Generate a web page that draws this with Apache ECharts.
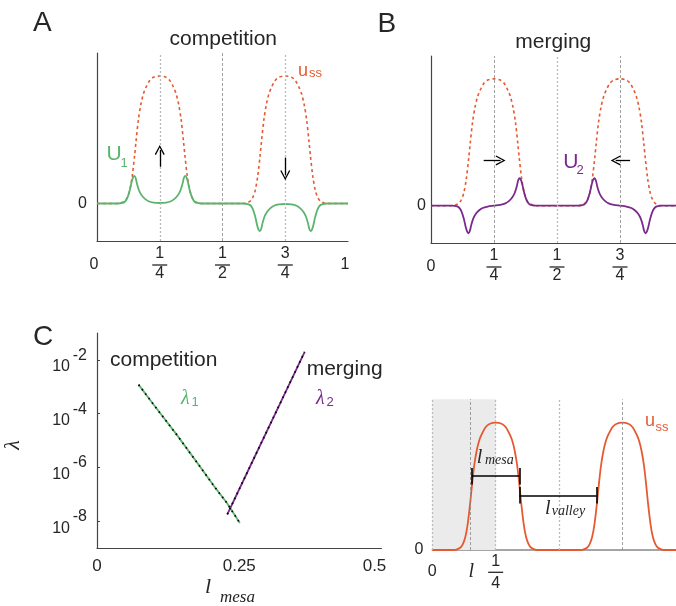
<!DOCTYPE html>
<html lang="en">
<head>
  <meta charset="UTF-8">
  <title>mesa competition / merging</title>
  <style>
    html, body { margin: 0; padding: 0; background: #fff; }
    #main { width: 676px; height: 606px; }
  </style>
</head>
<body>
  <div id="main"></div>
  <script src="https://cdn.jsdelivr.net/npm/echarts@6.0.0/dist/echarts.min.js"></script>
  <script>
    // steady state u_ss, two mesas centred on 1/4 and 3/4 (panels A, B, D)
    const ussX = [0, 0.085, 0.095, 0.11, 0.12, 0.13, 0.14, 0.15, 0.155, 0.165, 0.175, 0.185, 0.195, 0.21, 0.225, 0.25,
      0.275, 0.29, 0.305, 0.315, 0.325, 0.335, 0.345, 0.35, 0.36, 0.37, 0.38, 0.39, 0.405, 0.415,
      0.585, 0.595, 0.61, 0.62, 0.63, 0.64, 0.65, 0.655, 0.665, 0.675, 0.685, 0.695, 0.71, 0.725, 0.75,
      0.775, 0.79, 0.805, 0.815, 0.825, 0.835, 0.845, 0.85, 0.86, 0.87, 0.88, 0.89, 0.905, 0.915, 1]
    const ussY = [0, 0, 0.003, 0.018, 0.045, 0.1, 0.21, 0.38, 0.48, 0.66, 0.78, 0.86, 0.91, 0.965, 0.99, 1,
      0.99, 0.965, 0.91, 0.86, 0.78, 0.66, 0.48, 0.38, 0.21, 0.1, 0.045, 0.018, 0.003, 0,
      0, 0.003, 0.018, 0.045, 0.1, 0.21, 0.38, 0.48, 0.66, 0.78, 0.86, 0.91, 0.965, 0.99, 1,
      0.99, 0.965, 0.91, 0.86, 0.78, 0.66, 0.48, 0.38, 0.21, 0.1, 0.045, 0.018, 0.003, 0, 0]

    // eigenmodes U1 (competition) and U2 (merging)
    const uX = [0, 0.085, 0.1, 0.11, 0.12, 0.13, 0.138, 0.144, 0.149, 0.154, 0.16, 0.168, 0.178, 0.19, 0.205, 0.225, 0.25,
      0.275, 0.295, 0.31, 0.322, 0.332, 0.34, 0.346, 0.351, 0.356, 0.362, 0.37, 0.38, 0.39, 0.4, 0.415,
      0.585, 0.6, 0.61, 0.62, 0.63, 0.638, 0.644, 0.649, 0.654, 0.66, 0.668, 0.678, 0.69, 0.705, 0.725, 0.75,
      0.775, 0.795, 0.81, 0.822, 0.832, 0.84, 0.846, 0.851, 0.856, 0.862, 0.87, 0.88, 0.89, 0.9, 0.915, 1]
    const u1Y = [0, 0, 0.004, 0.012, 0.04, 0.1, 0.17, 0.207, 0.217, 0.2, 0.15, 0.1, 0.064, 0.038, 0.018, 0.007, 0.004,
      0.007, 0.018, 0.038, 0.064, 0.1, 0.15, 0.2, 0.217, 0.207, 0.17, 0.1, 0.04, 0.012, 0.004, 0,
      0, -0.004, -0.012, -0.04, -0.1, -0.17, -0.207, -0.217, -0.2, -0.15, -0.1, -0.064, -0.038, -0.018, -0.007, -0.004,
      -0.007, -0.018, -0.038, -0.064, -0.1, -0.15, -0.2, -0.217, -0.207, -0.17, -0.1, -0.04, -0.012, -0.004, 0, 0]
    const u2Y = [0, 0, -0.004, -0.012, -0.04, -0.1, -0.17, -0.207, -0.217, -0.2, -0.15, -0.1, -0.064, -0.038, -0.018, -0.007, 0,
      0.007, 0.018, 0.038, 0.064, 0.1, 0.15, 0.2, 0.217, 0.207, 0.17, 0.1, 0.04, 0.012, 0.004, 0,
      0, 0.004, 0.012, 0.04, 0.1, 0.17, 0.207, 0.217, 0.2, 0.15, 0.1, 0.064, 0.038, 0.018, 0.007, 0,
      -0.007, -0.018, -0.038, -0.064, -0.1, -0.15, -0.2, -0.217, -0.207, -0.17, -0.1, -0.04, -0.012, -0.004, 0, 0]

    // eigenvalues against mesa width (panel C)
    const lam1X = [0.073, 0.1, 0.141, 0.175, 0.205, 0.229, 0.251]
    const lam1Y = [1.2e-3, 2.1e-4, 1.55e-5, 1.6e-6, 2.1e-7, 4.5e-8, 8.5e-9]
    const lam2X = [0.229, 0.27, 0.32, 0.365]
    const lam2Y = [1.8e-8, 1.2e-6, 2.0e-4, 2.0e-2]

    // ticks
    const fracTicks = [0, 0.25, 0.5, 0.75, 1]
    const fracText = ['0', '1/4', '1/2', '3/4', '1']
    const lamTicks = [-8, -6, -4, -2]
    const mesaTicks = [0, 0.25, 0.5]
    const lValue = 0.154
    // widths marked in panel D: [from, to, height]
    const mesaBar = [0.155, 0.343, 0.58]
    const valleyBar = [0.343, 0.648, 0.43]

    const ORANGE = '#e65a32'
    const GREEN = '#5ab46e'
    const PURPLE = '#7a2a8c'
    const INK = '#262626'
    const SANS = '"Liberation Sans", Arial, sans-serif'
    const SERIF = '"Liberation Serif", "DejaVu Serif", serif'
    const ARROW = 'path://M5,0 L10,9 L8.8,9.6 L5,2.4 L1.2,9.6 L0,9 Z'

    const pairs = (xs, ys) => xs.map((x, i) => [x, ys[i]])

    const fracRich = {
      n: { fontSize: 16, lineHeight: 20, color: INK, fontFamily: SANS },
      bar: { width: 15, height: 1.3, lineHeight: 2, backgroundColor: INK },
      d: { fontSize: 16, lineHeight: 16, color: INK, fontFamily: SANS },
      c: { fontSize: 16, lineHeight: 42, color: INK, fontFamily: SANS },
      cs: { fontSize: 16, lineHeight: 42, color: INK, fontFamily: SANS, padding: [0, 6, 0, 0] },
      it: { fontSize: 20, lineHeight: 40, color: INK, fontFamily: SERIF, fontStyle: 'italic' }
    }
    function fracFormatter(v, shifted) {
      if (Math.abs(v - lValue) < 1e-9) return '{it|l}'
      const i = fracTicks.findIndex(t => Math.abs(t - v) < 1e-9)
      const s = i < 0 ? String(v) : fracText[i]
      if (s.indexOf('/') < 0) return (shifted ? '{cs|' : '{c|') + s + '}'
      const p = s.split('/')
      return '{n|' + p[0] + '}\n{bar| }\n{d|' + p[1] + '}'
    }

    const axisLine = { show: true, onZero: false, lineStyle: { color: '#444', width: 1.2 } }
    const zeroLabel = { customValues: [0], fontSize: 16, color: INK, fontFamily: SANS }

    function vline(x, light) {
      return {
        xAxis: x,
        lineStyle: light
          ? { color: '#bbb', type: [2, 2], width: 1.3 }
          : { color: '#888', type: [3, 2], width: 0.8 }
      }
    }
    function arrow(from, to) {
      return [{ coord: from }, { coord: to }]
    }
    const arrowMark = (data) => ({
      silent: true, symbol: ['none', ARROW], symbolSize: 10,
      label: { show: false }, lineStyle: { color: '#000', width: 1.3, type: 'solid' },
      data: data
    })
    function bar(b) {
      return [
        [{ coord: [b[0], b[2]] }, { coord: [b[1], b[2]] }],
        [{ coord: [b[0], b[2] - 0.065] }, { coord: [b[0], b[2] + 0.065] }],
        [{ coord: [b[1], b[2] - 0.065] }, { coord: [b[1], b[2] + 0.065] }]
      ]
    }

    function txt(x, y, text, font, fill, align, extra) {
      return Object.assign({
        type: 'text', x: x, y: y, z: 100, silent: true,
        style: { text: text, font: font, fill: fill || INK, align: align || 'left', verticalAlign: 'middle',
          textAlign: align || 'left', textVerticalAlign: 'middle' }
      }, extra || {})
    }

    var myChart = echarts.init(document.getElementById('main'), null, { renderer: 'canvas' })

    var option = {
      animation: false,
      backgroundColor: '#fff',
      grid: [
        { left: 97, top: 53, width: 251, height: 188, outerBoundsMode: 'none' },
        { left: 431, top: 56, width: 252, height: 187, outerBoundsMode: 'none' },
        { left: 97, top: 333, width: 284.5, height: 215, outerBoundsMode: 'none' },
        { left: 432.3, top: 399.3, width: 253.6, height: 150.7, outerBoundsMode: 'none' }
      ],
      xAxis: [
        {
          gridIndex: 0, type: 'value', min: 0, max: 1, axisLine: axisLine, splitLine: { show: false },
          axisTick: { show: false },
          axisLabel: { customValues: fracTicks, formatter: v => fracFormatter(v, true), rich: fracRich, margin: 3 }
        },
        {
          gridIndex: 1, type: 'value', min: 0, max: 1, axisLine: axisLine, splitLine: { show: false },
          axisTick: { show: false },
          axisLabel: { customValues: fracTicks.slice(0, 4), formatter: v => fracFormatter(v, false), rich: fracRich, margin: 3 }
        },
        {
          gridIndex: 2, type: 'value', min: 0, max: 0.5, axisLine: axisLine, splitLine: { show: false },
          axisTick: { show: false },
          axisLabel: { customValues: mesaTicks, margin: 10, fontSize: 17, color: INK, fontFamily: SANS,
            formatter: v => (v === 0.5 ? '{r|' + v + '}' : String(v)),
            rich: { r: { fontSize: 17, color: INK, fontFamily: SANS, padding: [0, 14, 0, 0] } } }
        },
        {
          gridIndex: 3, type: 'value', min: 0, max: 1, splitLine: { show: false },
          axisLine: { show: true, onZero: false, lineStyle: { color: '#888', width: 1.5 } },
          axisTick: { show: false },
          axisLabel: { customValues: [0, lValue, 0.25], formatter: v => fracFormatter(v, false),
            rich: Object.assign({}, fracRich, { n: { fontSize: 16, lineHeight: 20, color: INK, fontFamily: SANS },
              d: { fontSize: 16, lineHeight: 20, color: INK, fontFamily: SANS },
              c: { fontSize: 16, lineHeight: 40, color: INK, fontFamily: SANS } }),
            margin: 1.3 }
        }
      ],
      yAxis: [
        { gridIndex: 0, type: 'value', min: -0.294, max: 1.18, axisLine: axisLine, splitLine: { show: false },
          axisTick: { show: false }, axisLabel: Object.assign({ margin: 10 }, zeroLabel) },
        { gridIndex: 1, type: 'value', min: -0.294, max: 1.18, axisLine: axisLine, splitLine: { show: false },
          axisTick: { show: false }, axisLabel: Object.assign({ margin: 5 }, zeroLabel) },
        {
          gridIndex: 2, type: 'value', min: -9, max: -1, axisLine: axisLine, splitLine: { show: false },
          axisTick: { show: true, inside: true, length: 3, customValues: lamTicks, lineStyle: { color: '#444', width: 1 } },
          axisLabel: {
            customValues: lamTicks, margin: 10,
            formatter: v => '{e|' + v + '}\n{b|10}',
            rich: {
              e: { fontSize: 16, lineHeight: 14, color: INK, fontFamily: SANS },
              b: { fontSize: 16, lineHeight: 9, color: INK, fontFamily: SANS, padding: [0, 17, 0, 0] }
            }
          }
        },
        { gridIndex: 3, type: 'value', min: 0, max: 1.184, axisLine: { show: false }, splitLine: { show: false },
          axisTick: { show: false }, axisLabel: Object.assign({ margin: 9 }, zeroLabel) }
      ],
      series: [
        // panel A
        {
          type: 'line', xAxisIndex: 0, yAxisIndex: 0, z: 2, data: pairs(ussX, ussY), smooth: 0.3,
          showSymbol: false, lineStyle: { color: ORANGE, width: 1.6, type: [3, 3] },
          markLine: { silent: true, symbol: 'none', label: { show: false },
            data: [vline(0.25, true), vline(0.5, false), vline(0.75, true)] }
        },
        {
          type: 'line', xAxisIndex: 0, yAxisIndex: 0, z: 3, data: pairs(uX, u1Y), smooth: 0.3,
          showSymbol: false, lineStyle: { color: GREEN, width: 1.8 },
          markLine: arrowMark([arrow([0.25, 0.288], [0.25, 0.42]), arrow([0.75, 0.36], [0.75, 0.222])])
        },
        // panel B
        {
          type: 'line', xAxisIndex: 1, yAxisIndex: 1, z: 2, data: pairs(ussX, ussY), smooth: 0.3,
          showSymbol: false, lineStyle: { color: ORANGE, width: 1.6, type: [3, 3] },
          markLine: { silent: true, symbol: 'none', label: { show: false },
            data: [vline(0.25, false), vline(0.5, true), vline(0.75, false)] }
        },
        {
          type: 'line', xAxisIndex: 1, yAxisIndex: 1, z: 3, data: pairs(uX, u2Y), smooth: 0.3,
          showSymbol: false, lineStyle: { color: PURPLE, width: 1.8 },
          markLine: arrowMark([arrow([0.209, 0.357], [0.276, 0.357]), arrow([0.79, 0.357], [0.733, 0.357])])
        },
        // panel C
        {
          type: 'line', xAxisIndex: 2, yAxisIndex: 2, z: 2, showSymbol: false,
          data: lam1X.map((x, i) => [x, Math.log10(lam1Y[i])]), lineStyle: { color: GREEN, width: 1.8 }
        },
        {
          type: 'line', xAxisIndex: 2, yAxisIndex: 2, z: 2, showSymbol: false,
          data: lam2X.map((x, i) => [x, Math.log10(lam2Y[i])]), lineStyle: { color: PURPLE, width: 1.8 }
        },
        {
          type: 'line', xAxisIndex: 2, yAxisIndex: 2, z: 3, showSymbol: false,
          data: lam1X.map((x, i) => [x, Math.log10(lam1Y[i])]), lineStyle: { color: '#000', width: 1.7, type: [1.6, 4] }
        },
        {
          type: 'line', xAxisIndex: 2, yAxisIndex: 2, z: 3, showSymbol: false,
          data: lam2X.map((x, i) => [x, Math.log10(lam2Y[i])]), lineStyle: { color: '#000', width: 1.7, type: [1.6, 4] }
        },
        // panel D: shaded first quarter, guide lines, profile, widths
        {
          type: 'line', xAxisIndex: 3, yAxisIndex: 3, z: 1, data: [],
          markArea: { silent: true, itemStyle: { color: '#ebebeb' }, data: [[{ xAxis: 0 }, { xAxis: 0.25 }]] }
        },
        {
          type: 'line', xAxisIndex: 3, yAxisIndex: 3, z: 2, data: [],
          markLine: { silent: true, symbol: 'none', label: { show: false },
            data: [vline(0, true), vline(lValue, false), vline(0.25, true), vline(0.5, true), vline(0.75, false)] }
        },
        {
          type: 'line', xAxisIndex: 3, yAxisIndex: 3, z: 3, data: pairs(ussX, ussY), smooth: 0.3,
          showSymbol: false, lineStyle: { color: ORANGE, width: 1.8 },
          markLine: { silent: true, symbol: 'none', label: { show: false },
            lineStyle: { color: '#000', width: 1.6, type: 'solid' },
            data: bar(mesaBar).concat(bar(valleyBar)) }
        }
      ],
      graphic: [
        txt(33, 23.5, 'A', '28px ' + SANS),
        txt(377.5, 24, 'B', '28px ' + SANS),
        txt(33, 337, 'C', '28px ' + SANS),
        txt(223.3, 39.4, 'competition', '21px ' + SANS, INK, 'center'),
        txt(553.3, 42.2, 'merging', '21px ' + SANS, INK, 'center'),
        txt(110, 359.9, 'competition', '21px ' + SANS),
        txt(306.7, 369.2, 'merging', '21px ' + SANS),
        txt(298, 71.2, 'u', '18px ' + SANS, ORANGE),
        txt(309, 73.6, 'ss', '13px ' + SANS, ORANGE),
        txt(106.5, 154.2, 'U', '21px ' + SANS, GREEN),
        txt(120.5, 163.5, '1', '13px ' + SANS, GREEN),
        txt(563.3, 162.5, 'U', '21px ' + SANS, PURPLE),
        txt(576.5, 170, '2', '13px ' + SANS, PURPLE),
        txt(645, 421.4, 'u', '18px ' + SANS, ORANGE),
        txt(655.5, 427.2, 'ss', '13px ' + SANS, ORANGE),
        txt(181, 399, 'λ', 'italic 20px ' + SERIF, GREEN),
        txt(191.5, 402, '1', '13px ' + SANS, GREEN),
        txt(316, 399, 'λ', 'italic 20px ' + SERIF, PURPLE),
        txt(326.5, 402, '2', '13px ' + SANS, PURPLE),
        txt(13, 445, 'λ', 'italic 22px ' + SERIF, INK, 'center', { rotation: Math.PI / 2 }),
        txt(205, 587.5, 'l', 'italic 22px ' + SERIF),
        txt(220, 598, 'mesa', 'italic 17px ' + SERIF),
        txt(476.7, 458, 'l', 'italic 20px ' + SERIF),
        txt(485, 460.8, 'mesa', 'italic 14px ' + SERIF),
        txt(545, 509, 'l', 'italic 20px ' + SERIF),
        txt(551.7, 511, 'valley', 'italic 14px ' + SERIF)
      ]
    }

    myChart.setOption(option)
  </script>
</body>
</html>
